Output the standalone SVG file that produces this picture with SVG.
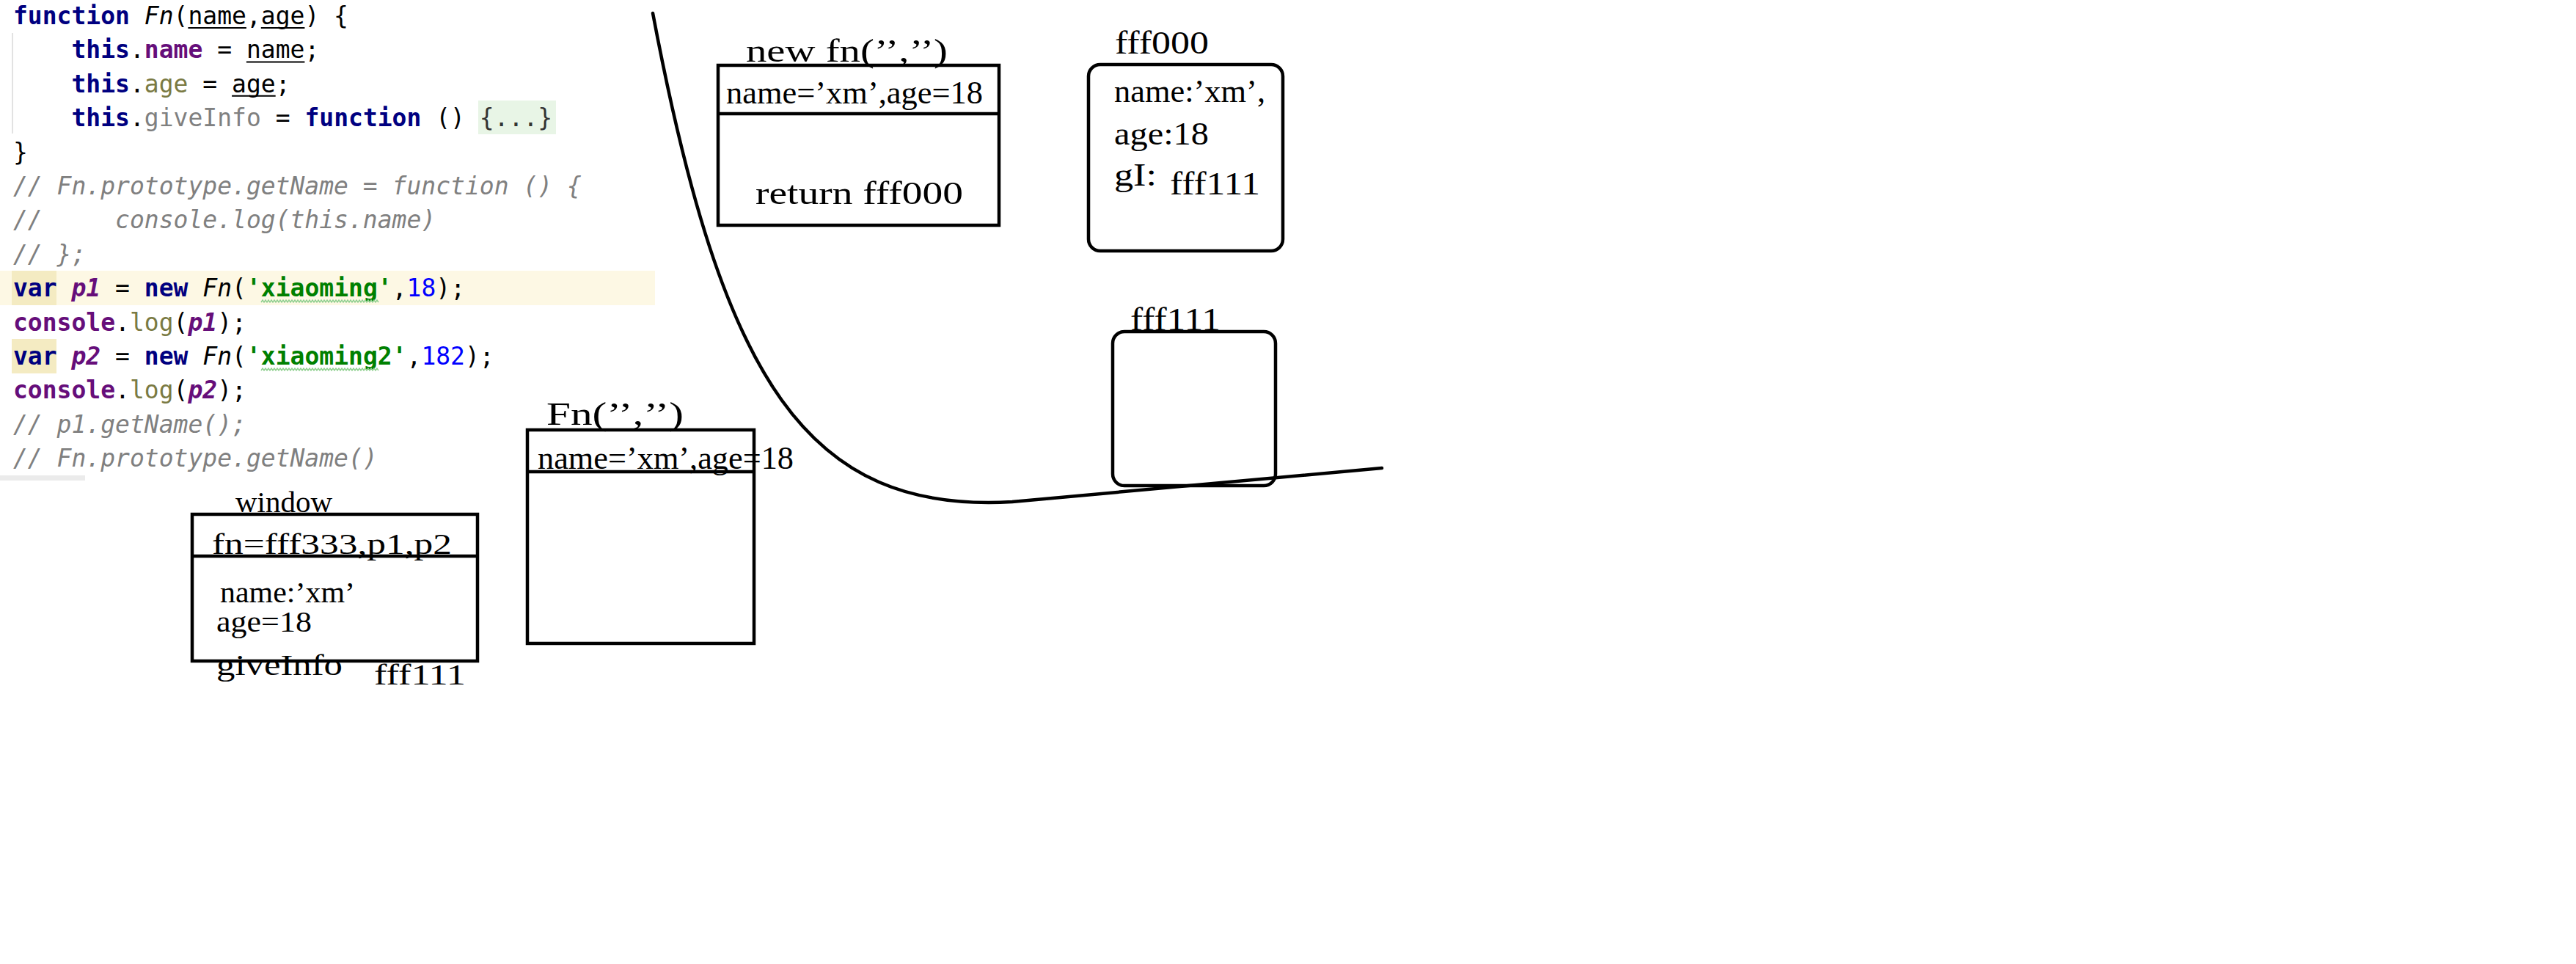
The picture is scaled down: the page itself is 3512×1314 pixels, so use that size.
<svg xmlns="http://www.w3.org/2000/svg" width="3512" height="1314" viewBox="0 0 3512 1314">
<style>
.code{font-family:"DejaVu Sans Mono","Liberation Mono",monospace;font-size:33px;fill:#000;white-space:pre}
.kw{fill:#000080;font-weight:bold}
.fld{fill:#660E7A;font-weight:bold}
.ol{fill:#7A7A43}
.gr{fill:#808080}
.it{font-style:italic}
.str{fill:#008000;font-weight:bold}
.num{fill:#0000FF}
.cm{fill:#808080;font-style:italic}
.lbl{font-family:"Liberation Serif","DejaVu Serif",serif;font-size:44px;fill:#000}
.sm{font-size:39px}
.box{fill:none;stroke:#000;stroke-width:4.5}
.ul{stroke:#000;stroke-width:2}
.wavy{fill:none;stroke:#8fcf8f;stroke-width:1.5}
</style>
<rect width="3512" height="1314" fill="#fff"/>
<g id="code">
<rect x="0" y="369" width="893" height="47" fill="#FDF8E4"/>
<rect x="16" y="369" width="61" height="47" fill="#F4EBC2"/>
<rect x="16" y="462" width="61" height="47" fill="#F4EBC2"/>
<rect x="652" y="137" width="106" height="46" fill="#E8F5E6"/>
<rect x="16" y="45" width="2" height="137" fill="#E2E2E2"/>
<rect x="0" y="648" width="116" height="7" fill="#EBEBEB"/>
<text class="code" x="18" y="33" xml:space="preserve"><tspan class="kw">function</tspan> <tspan class="it">Fn</tspan>(name,age) {</text>
<text class="code" x="18" y="79.4" xml:space="preserve">    <tspan class="kw">this</tspan>.<tspan class="fld">name</tspan> = name;</text>
<text class="code" x="18" y="125.8" xml:space="preserve">    <tspan class="kw">this</tspan>.<tspan class="ol">age</tspan> = age;</text>
<text class="code" x="18" y="172.2" xml:space="preserve">    <tspan class="kw">this</tspan>.<tspan class="gr">giveInfo</tspan> = <tspan class="kw">function</tspan> () <tspan fill="#333">{...}</tspan></text>
<text class="code" x="18" y="218.6" xml:space="preserve">}</text>
<text class="code cm" x="18" y="265" xml:space="preserve">// Fn.prototype.getName = function () {</text>
<text class="code cm" x="18" y="311.4" xml:space="preserve">//     console.log(this.name)</text>
<text class="code cm" x="18" y="357.8" xml:space="preserve">// };</text>
<text class="code" x="18" y="404.2" xml:space="preserve"><tspan class="kw">var</tspan> <tspan class="fld it">p1</tspan> = <tspan class="kw">new</tspan> <tspan class="it">Fn</tspan>(<tspan class="str">'xiaoming'</tspan>,<tspan class="num">18</tspan>);</text>
<text class="code" x="18" y="450.6" xml:space="preserve"><tspan class="fld">console</tspan>.<tspan class="ol">log</tspan>(<tspan class="fld it">p1</tspan>);</text>
<text class="code" x="18" y="497" xml:space="preserve"><tspan class="kw">var</tspan> <tspan class="fld it">p2</tspan> = <tspan class="kw">new</tspan> <tspan class="it">Fn</tspan>(<tspan class="str">'xiaoming2'</tspan>,<tspan class="num">182</tspan>);</text>
<text class="code" x="18" y="543.4" xml:space="preserve"><tspan class="fld">console</tspan>.<tspan class="ol">log</tspan>(<tspan class="fld it">p2</tspan>);</text>
<text class="code cm" x="18" y="589.8" xml:space="preserve">// p1.getName();</text>
<text class="code cm" x="18" y="636.2" xml:space="preserve">// Fn.prototype.getName()</text>
<line class="ul" x1="256.4" y1="38" x2="335.9" y2="38"/>
<line class="ul" x1="355.8" y1="38" x2="415.4" y2="38"/>
<line class="ul" x1="335.9" y1="84.4" x2="415.4" y2="84.4"/>
<line class="ul" x1="316.1" y1="130.8" x2="375.7" y2="130.8"/>
<polyline class="wavy" points="356,412 358,409 360,412 362,409 364,412 366,409 368,412 370,409 372,412 374,409 376,412 378,409 380,412 382,409 384,412 386,409 388,412 390,409 392,412 394,409 396,412 398,409 400,412 402,409 404,412 406,409 408,412 410,409 412,412 414,409 416,412 418,409 420,412 422,409 424,412 426,409 428,412 430,409 432,412 434,409 436,412 438,409 440,412 442,409 444,412 446,409 448,412 450,409 452,412 454,409 456,412 458,409 460,412 462,409 464,412 466,409 468,412 470,409 472,412 474,409 476,412 478,409 480,412 482,409 484,412 486,409 488,412 490,409 492,412 494,409 496,412 498,409 500,412 502,409 504,412 506,409 508,412 510,409 512,412 514,409 516,412"/>
<polyline class="wavy" points="356,505 358,502 360,505 362,502 364,505 366,502 368,505 370,502 372,505 374,502 376,505 378,502 380,505 382,502 384,505 386,502 388,505 390,502 392,505 394,502 396,505 398,502 400,505 402,502 404,505 406,502 408,505 410,502 412,505 414,502 416,505 418,502 420,505 422,502 424,505 426,502 428,505 430,502 432,505 434,502 436,505 438,502 440,505 442,502 444,505 446,502 448,505 450,502 452,505 454,502 456,505 458,502 460,505 462,502 464,505 466,502 468,505 470,502 472,505 474,502 476,505 478,502 480,505 482,502 484,505 486,502 488,505 490,502 492,505 494,502 496,505 498,502 500,505 502,502 504,505 506,502 508,505 510,502 512,505 514,502 516,505"/>
</g>
<g id="divider-curve">
<path d="M890,18 C985,520 1100,700 1380,684 L1884,638" fill="none" stroke="#000" stroke-width="4.5" stroke-linecap="round"/>
</g>
<g id="window-box">
<text class="lbl sm" x="321" y="698" textLength="132" lengthAdjust="spacingAndGlyphs">window</text>
<text class="lbl sm" x="289" y="755" textLength="327" lengthAdjust="spacingAndGlyphs">fn=fff333,p1,p2</text>
<text class="lbl sm" x="300" y="821" textLength="184" lengthAdjust="spacingAndGlyphs">name:’xm’</text>
<text class="lbl sm" x="295" y="861" textLength="130" lengthAdjust="spacingAndGlyphs">age=18</text>
<text class="lbl sm" x="295" y="920" textLength="172" lengthAdjust="spacingAndGlyphs">giveInfo</text>
<text class="lbl sm" x="510" y="933" textLength="125" lengthAdjust="spacingAndGlyphs">fff111</text>
<rect class="box" x="262" y="701" width="389" height="200"/>
<line class="box" x1="262" y1="758" x2="651" y2="758"/>
</g>
<g id="fn-call-box">
<text class="lbl" x="745" y="579" textLength="187" lengthAdjust="spacingAndGlyphs">Fn(’’,’’)</text>
<text class="lbl" x="733" y="639" textLength="349" lengthAdjust="spacingAndGlyphs">name=’xm’,age=18</text>
<rect class="box" x="719" y="586" width="309" height="291"/>
<line class="box" x1="719" y1="643" x2="1028" y2="643"/>
</g>
<g id="new-fn-box">
<text class="lbl" x="1017" y="84" textLength="275" lengthAdjust="spacingAndGlyphs">new fn(’’,’’)</text>
<text class="lbl" x="990" y="141" textLength="350" lengthAdjust="spacingAndGlyphs">name=’xm’,age=18</text>
<text class="lbl" x="1030" y="278" textLength="283" lengthAdjust="spacingAndGlyphs">return fff000</text>
<rect class="box" x="979" y="89" width="383" height="218"/>
<line class="box" x1="979" y1="155" x2="1362" y2="155"/>
</g>
<g id="fff000-box">
<text class="lbl" x="1520" y="73" textLength="128" lengthAdjust="spacingAndGlyphs">fff000</text>
<text class="lbl" x="1519" y="139" textLength="206" lengthAdjust="spacingAndGlyphs">name:’xm’,</text>
<text class="lbl" x="1519" y="197" textLength="129" lengthAdjust="spacingAndGlyphs">age:18</text>
<text class="lbl" x="1519" y="253" textLength="58" lengthAdjust="spacingAndGlyphs">gI:</text>
<text class="lbl" x="1595" y="265" textLength="123" lengthAdjust="spacingAndGlyphs">fff111</text>
<rect class="box" x="1484" y="88" width="265" height="254" rx="16"/>
</g>
<g id="fff111-box">
<text class="lbl" x="1541" y="450" textLength="123" lengthAdjust="spacingAndGlyphs">fff111</text>
<rect class="box" x="1517" y="452" width="222" height="210" rx="16"/>
</g>
</svg>
